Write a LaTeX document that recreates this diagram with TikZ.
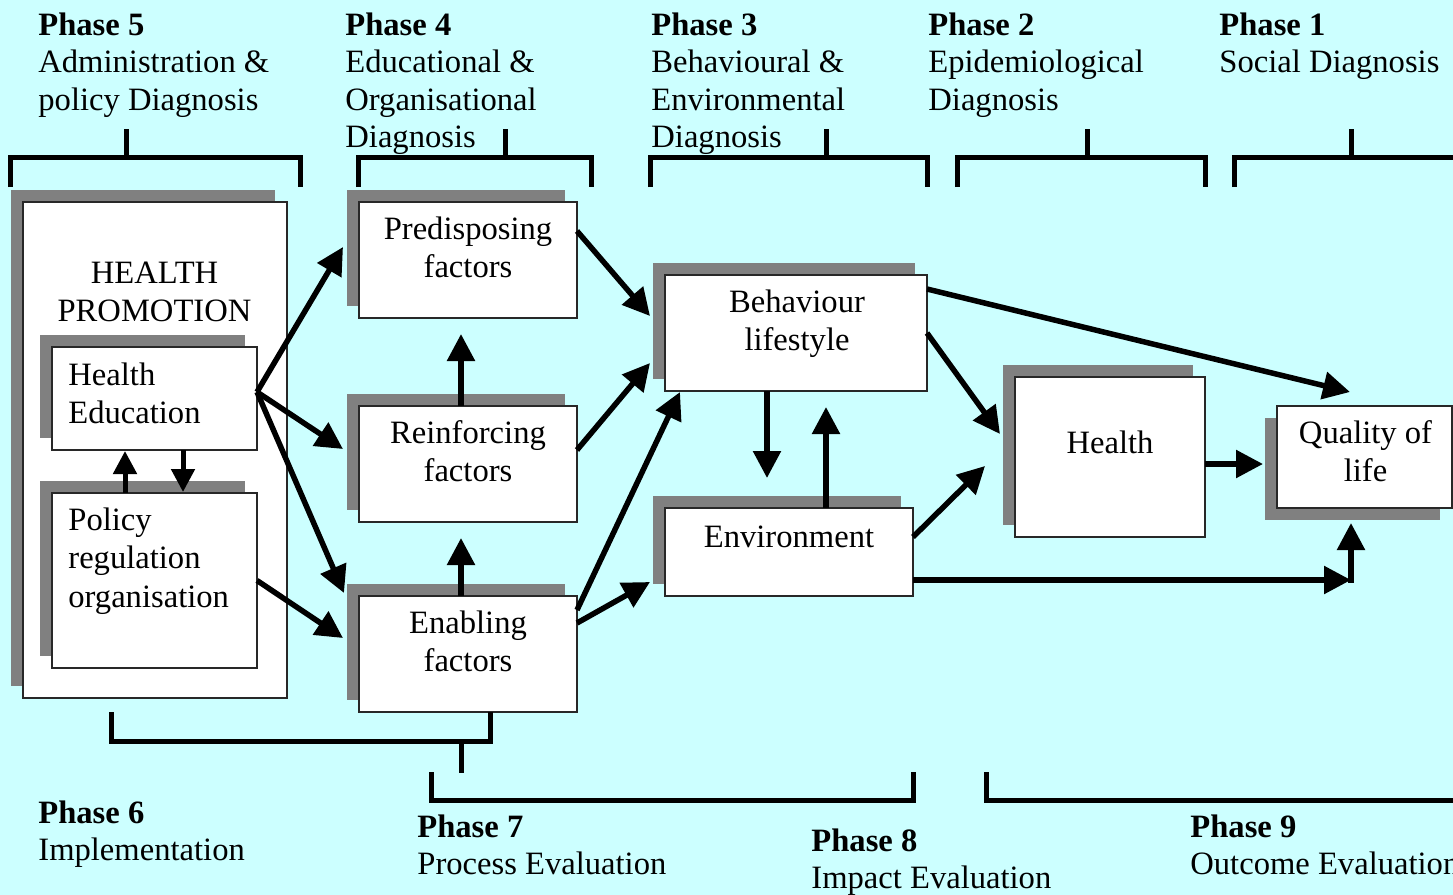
\documentclass[tikz,border=0pt]{standalone}
\usepackage{fontspec}
\setmainfont{Liberation Serif}
\usetikzlibrary{arrows.meta,shadows,calc,fit}

\definecolor{skycyan}{RGB}{204,255,255}
\definecolor{shadegray}{RGB}{128,128,128}
\definecolor{rimgray}{RGB}{40,40,40}

\tikzset{
  panel/.style={draw=rimgray, line width=0.75pt, fill=white, inner sep=0pt, outer sep=0pt},
  shadeUL/.style={drop shadow={shadow xshift=-6pt, shadow yshift=6pt, fill=shadegray, opacity=1}},
  shadeDL/.style={drop shadow={shadow xshift=-6pt, shadow yshift=-6pt, fill=shadegray, opacity=1}},
  boxtext/.style={inner sep=0pt, anchor=north, align=center, font=\fontsize{16.3pt}{19.25pt}\selectfont},
  boxtextl/.style={boxtext, anchor=north west, align=left},
  phase/.style={inner sep=0pt, anchor=north west, align=left, font=\fontsize{16.3pt}{18.75pt}\selectfont},
  link/.style={line width=2.75pt, -{Triangle[length=13.5pt,width=13.5pt]}},
  smalllink/.style={line width=2.5pt, -{Triangle[length=11.5pt,width=11.5pt]}},
  bracket/.style={line width=2.5pt, line join=miter},
}

\begin{document}
\begin{tikzpicture}[x=0.5pt, y=-0.5pt]
  % canvas
  \fill[skycyan] (0,0) rectangle (1453,895);
  \useasboundingbox (0,0) rectangle (1453,895);
  \clip (0,0) rectangle (1453,895);

  % boxes
  \node[panel, shadeUL, fit={(23,202)(287,698)}] (hp) {};
  \node[panel, shadeUL, fit={(52,347)(257,450)}] (hed) {};
  \node[panel, shadeUL, fit={(52,493)(257,668)}] (pol) {};
  \node[panel, shadeUL, fit={(359,202)(577,318)}] (pre) {};
  \node[panel, shadeUL, fit={(359,406)(577,522)}] (rei) {};
  \node[panel, shadeUL, fit={(359,596)(577,712)}] (ena) {};
  \node[panel, shadeUL, fit={(665,275)(927,391)}] (beh) {};
  \node[panel, shadeUL, fit={(665,508)(913,596)}] (env) {};
  \node[panel, shadeUL, fit={(1015,377)(1205,537)}] (hea) {};
  \node[panel, shadeDL, fit={(1277,406)(1452,508)}] (qol) {};

  % box texts
  \node[boxtext]  (hptext)  at (154.5,256) {\strut HEALTH\\PROMOTION};
  \node[boxtextl] (hedtext) at (68,358)    {\strut Health\\Education};
  \node[boxtextl] (poltext) at (68,503)    {\strut Policy\\regulation\\organisation};
  \node[boxtext]  (pretext) at (468,212)   {\strut Predisposing\\factors};
  \node[boxtext]  (reitext) at (468,416)   {\strut Reinforcing\\factors};
  \node[boxtext]  (enatext) at (468,606)   {\strut Enabling\\factors};
  \node[boxtext]  (behtext) at (797,285)   {\strut Behaviour\\lifestyle};
  \node[boxtext]  (envtext) at (789,520)   {\strut Environment};
  \node[boxtext]  (heatext) at (1110,426)  {\strut Health};
  \node[boxtext]  (qoltext) at (1365.5,416) {\strut Quality of\\life};

  % phase headings
  \node[phase] (ph5) at (38,8.75)   {\strut\textbf{Phase 5}\\Administration \&\\policy Diagnosis};
  \node[phase] (ph4) at (345,8.75)  {\strut\textbf{Phase 4}\\Educational \&\\Organisational\\Diagnosis};
  \node[phase] (ph3) at (651,8.75)  {\strut\textbf{Phase 3}\\Behavioural \&\\Environmental\\Diagnosis};
  \node[phase] (ph2) at (928,8.75)  {\strut\textbf{Phase 2}\\Epidemiological\\Diagnosis};
  \node[phase] (ph1) at (1219,8.75) {\strut\textbf{Phase 1}\\Social Diagnosis};
  \node[phase] (ph6) at (38,796.75)   {\strut\textbf{Phase 6}\\Implementation};
  \node[phase] (ph7) at (417,810.75)  {\strut\textbf{Phase 7}\\Process Evaluation};
  \node[phase] (ph8) at (811,824.75)  {\strut\textbf{Phase 8}\\Impact Evaluation};
  \node[phase] (ph9) at (1190,810.75) {\strut\textbf{Phase 9}\\Outcome Evaluation};

  % top brackets
  \draw[bracket] (10.5,187) -- (10.5,157.5) -- (300.5,157.5) -- (300.5,187) (126,157.5) -- (126,129);
  \draw[bracket] (358.5,187) -- (358.5,157.5) -- (591.5,157.5) -- (591.5,187) (505,157.5) -- (505,129);
  \draw[bracket] (650.5,187) -- (650.5,157.5) -- (927.5,157.5) -- (927.5,187) (826,157.5) -- (826,129);
  \draw[bracket] (957.5,187) -- (957.5,157.5) -- (1205,157.5) -- (1205,187) (1087,157.5) -- (1087,129);
  \draw[bracket] (1234,187) -- (1234,157.5) -- (1470,157.5) (1351,157.5) -- (1351,129);

  % bottom brackets
  \draw[bracket] (111,712) -- (111,741.5) -- (490,741.5) -- (490,712) (461,741.5) -- (461,773);
  \draw[bracket] (431,772) -- (431,800) -- (913,800) -- (913,772);
  \draw[bracket] (986,772) -- (986,800) -- (1470,800);

  % health promotion to the three factor groups
  \draw[link] ($(hed.east)+(0,-6.5)$) -- ($(pre.west)+(-16,-13)$);
  \draw[link] ($(hed.east)+(0,-6.5)$) -- ($(rei.west)+(-16,-15)$);
  \draw[link] ($(hed.east)+(0,-6.5)$) -- ($(ena.west)+(-15,-61)$);
  \draw[link] (pol.east) -- ($(ena.west)+(-16,-16)$);
  \draw[smalllink] ($(pol.north)+(-29.5,0)$) -- ($(hed.south)+(-29.5,1)$);
  \draw[smalllink] ($(hed.south)+(28.5,0)$) -- ($(pol.north)+(28.5,-1)$);

  % links among the factors
  \draw[link] ($(rei.north)+(-7,0)$) -- ($(pre.south)+(-7,16)$);
  \draw[link] ($(ena.north)+(-7,0)$) -- ($(rei.south)+(-7,16)$);

  % factors to behaviour and environment
  \draw[link] ($(pre.east)+(0,-29)$) -- ($(beh.west)+(-15,-17)$);
  \draw[link] ($(rei.east)+(0,-14)$) -- ($(beh.west)+(-15,30)$);
  \draw[link] ($(ena.east)+(0,-44)$) -- ($(beh.south west)+(15,1)$);
  \draw[link] ($(ena.east)+(0,-31)$) -- ($(env.west)+(-15,30)$);
  \draw[link] ($(beh.south)+(-29,0)$) -- ($(env.north)+(-22,-30)$);
  \draw[link] ($(env.north)+(37,0)$) -- ($(beh.south)+(30,16)$);

  % towards health and quality of life
  \draw[link] ($(beh.east)+(0,-44)$) -- ($(qol.north)+(-14.5,-14)$);
  \draw[link] (beh.east) -- ($(hea.west)+(-15,-23)$);
  \draw[link] ($(env.east)+(0,-15)$) -- ($(hea.west)+(-30,9)$);
  \draw[link] ($(hea.east)+(0,7)$) -- ($(qol.west)+(-14,7)$);
  \coordinate (qolfeed) at ($(qol.south)+(-13.5,72)$);
  \draw[link] ($(env.east)+(0,28)$) -- (qolfeed);
  \draw[link] ($(qolfeed)+(0,2.75)$) -- ($(qol.south)+(-13.5,15)$);
\end{tikzpicture}
\end{document}
